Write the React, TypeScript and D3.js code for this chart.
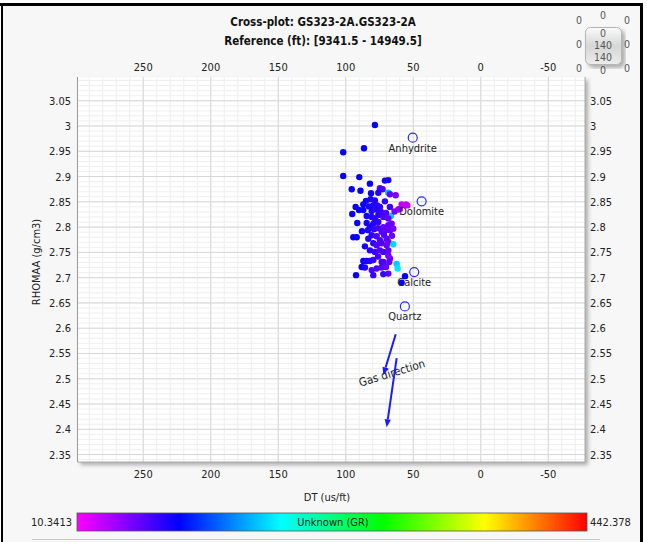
import React from "react";
import * as d3 from "d3";

// log samples: DT (us/ft), RHOMAA (g/cm3), GR (colour)
const dtValues = [
  78.4, 86.5, 101.9, 101.9, 90.0, 82.1, 71.0, 68.5, 95.6, 89.1,
  74.7, 72.7, 81.3, 75.9, 68.5, 67.3, 63.0, 85.0, 81.6, 78.4,
  71.0, 92.7, 90.2, 76.7, 74.7, 67.3, 58.6, 55.4, 59.9, 80.8,
  95.2, 66.5, 87.0, 79.6, 61.1, 54.4, 87.0, 77.1, 84.5, 80.8,
  78.4, 75.9, 72.2, 68.5, 91.5, 84.5, 79.6, 75.9, 72.2, 68.5,
  66.0, 73.4, 71.0, 67.3, 64.8, 82.1, 80.8, 77.1, 83.3, 74.7,
  69.7, 94.4, 91.9, 79.6, 77.1, 73.4, 68.5, 69.7, 64.8, 82.1,
  78.4, 74.7, 72.2, 68.5, 68.5, 87.0, 84.5, 82.1, 79.6, 73.4,
  88.2, 85.8, 72.2, 67.3, 67.8, 77.1, 73.4, 80.8, 79.6, 70.2,
  68.5, 92.4, 62.3, 61.6, 56.1, 58.6, 72.2, 83.6, 79.1, 76.1,
  85.8, 71.7, 65.8, 76.1, 88.0, 73.9, 70.2, 82.8, 63.9,
];
const rhomaaValues = [
  3.002, 2.956, 2.948, 2.901, 2.899, 2.886, 2.892, 2.893, 2.875, 2.872,
  2.877, 2.875, 2.867, 2.868, 2.868, 2.865, 2.863, 2.852, 2.855, 2.853,
  2.851, 2.840, 2.834, 2.843, 2.840, 2.840, 2.845, 2.845, 2.836, 2.832,
  2.826, 2.822, 2.845, 2.843, 2.835, 2.843, 2.834, 2.835, 2.822, 2.820,
  2.817, 2.824, 2.820, 2.817, 2.808, 2.808, 2.807, 2.810, 2.800, 2.804,
  2.807, 2.791, 2.793, 2.794, 2.797, 2.800, 2.784, 2.782, 2.777, 2.774,
  2.777, 2.780, 2.780, 2.768, 2.764, 2.768, 2.771, 2.764, 2.766, 2.754,
  2.751, 2.754, 2.751, 2.754, 2.744, 2.733, 2.733, 2.733, 2.735, 2.731,
  2.721, 2.720, 2.731, 2.738, 2.731, 2.718, 2.720, 2.715, 2.705, 2.721,
  2.708, 2.705, 2.727, 2.718, 2.703, 2.690, 2.707, 2.794, 2.796, 2.798,
  2.762, 2.785, 2.783, 2.742, 2.792, 2.830, 2.828, 2.841, 2.831,
];
const grValues = [
  95, 95, 95, 95, 95, 94, 92, 90, 95, 95,
  68, 72, 90, 85, 160, 62, 55, 92, 88, 86,
  82, 95, 94, 85, 82, 76, 30, 28, 32, 86,
  95, 165, 94, 86, 45, 30, 92, 84, 90, 86,
  82, 86, 68, 64, 95, 90, 86, 82, 62, 66,
  62, 68, 64, 64, 56, 88, 80, 72, 86, 70,
  68, 95, 95, 82, 68, 72, 62, 62, 170, 82,
  78, 70, 72, 66, 62, 92, 88, 84, 78, 75,
  92, 86, 72, 56, 64, 70, 68, 72, 78, 62,
  66, 95, 165, 175, 97, 98, 78, 86, 78, 72,
  90, 68, 62, 72, 92, 78, 70, 88, 56,
];

const mineralNames = ["Anhydrite", "Dolomite", "Calcite", "Quartz"];
const mineralDt = [50.4, 43.8, 49.3, 56.2];
const mineralRhomaa = [2.977, 2.851, 2.711, 2.643];

// gas direction arrows: [dtFrom, rhoFrom, dtTo, rhoTo]
const gasArrows = [
  [63.0, 2.588, 72.2, 2.507],
  [62.3, 2.541, 69.7, 2.404],
];
const gasLabel = "Gas direction";

const xTickValues = [250, 200, 150, 100, 50, 0, -50];
const yTickValues = [3.05, 3, 2.95, 2.9, 2.85, 2.8, 2.75, 2.7, 2.65, 2.6, 2.55, 2.5, 2.45, 2.4, 2.35];
const grRange = [10.3413, 442.378];
const colorStops = ["#ff00ff", "#0000ff", "#00ffff", "#00ff00", "#ffff00", "#ff0000"];

const W = 647;
const H = 542;
const left = 77.5;
const right = 585;
const top = 77;
const bottom = 462;
const font = "'DejaVu Sans Condensed', 'Liberation Sans', sans-serif";

export default function App() {
  const x = d3.scaleLinear().domain([298.7, -77.2]).range([left, right]);
  const y = d3.scaleLinear().domain([3.097, 2.3353]).range([top, bottom]);
  const gr = d3
    .scaleLinear<string>()
    .domain(colorStops.map((_, i) => grRange[0] + (i / (colorStops.length - 1)) * (grRange[1] - grRange[0])))
    .range(colorStops)
    .clamp(true);

  const minorX = d3.range(-70, 300, 10);
  const minorY = d3.range(234, 310, 1).map((d) => d / 100);
  const fmtY = (v: number) => String(+v.toFixed(2));

  const widgetZeros = [
    [579, 24], [603, 19], [627, 24],
    [579, 48], [627, 48],
    [579, 72], [603, 74], [627, 72],
  ];

  return (
    <div style={{ position: "absolute", left: 0, top: 0 }}>
      <svg width={W} height={H} style={{ display: "block", fontFamily: font }}>
        <defs>
          <linearGradient id="cbar" x1="0" x2="1" y1="0" y2="0">
            {colorStops.map((c, i) => (
              <stop key={i} offset={i / (colorStops.length - 1)} stopColor={c} />
            ))}
          </linearGradient>
          <linearGradient id="btn" x1="0" x2="0" y1="0" y2="1">
            <stop offset="0" stopColor="#fbfbfb" />
            <stop offset="0.5" stopColor="#d6d6d6" />
            <stop offset="1" stopColor="#ececec" />
          </linearGradient>
          <filter id="shadow" x="-5%" y="-5%" width="115%" height="115%">
            <feDropShadow dx="3" dy="3" stdDeviation="2" floodColor="#000" floodOpacity="0.3" />
          </filter>
          <clipPath id="plotclip">
            <rect x={left} y={top} width={right - left} height={bottom - top} />
          </clipPath>
        </defs>

        <rect x={0} y={0} width={W} height={H} fill="#fff" />
        <rect x={2} y={5} width={639} height={H - 5} fill="#f7f7f7" />
        <line x1={0} x2={643} y1={4.5} y2={4.5} stroke="#000" strokeWidth={3} />
        <line x1={2} x2={2} y1={4} y2={H} stroke="#000" strokeWidth={2} />
        <line x1={641.5} x2={641.5} y1={4} y2={H} stroke="#000" strokeWidth={3} />

        {/* titles */}
        <text x={323} y={26} textAnchor="middle" fontSize={11.5} fontWeight="bold" fill="#111">
          Cross-plot: GS323-2A.GS323-2A
        </text>
        <text x={323} y={45} textAnchor="middle" fontSize={11.5} fontWeight="bold" fill="#111">
          Reference (ft): [9341.5 - 14949.5]
        </text>

        {/* plot background */}
        <rect x={left} y={top} width={right - left} height={bottom - top} fill="#fff" filter="url(#shadow)" />
        <g>
          {minorX.map((v) => (
            <line key={"mx" + v} x1={x(v)} x2={x(v)} y1={top} y2={bottom} stroke="#efefef" />
          ))}
          {minorY.map((v) => (
            <line key={"my" + v} x1={left} x2={right} y1={y(v)} y2={y(v)} stroke="#efefef" />
          ))}
          {xTickValues.map((v) => (
            <line key={"gx" + v} x1={x(v)} x2={x(v)} y1={top} y2={bottom} stroke="#d8d8d8" />
          ))}
          {yTickValues.map((v) => (
            <line key={"gy" + v} x1={left} x2={right} y1={y(v)} y2={y(v)} stroke="#d8d8d8" />
          ))}
        </g>
        <line x1={left} x2={left} y1={top} y2={bottom} stroke="#999" />
        <line x1={left} x2={right} y1={bottom} y2={bottom} stroke="#aaa" />
        <line x1={right} x2={right} y1={top} y2={bottom} stroke="#aaa" />

        {/* tick labels */}
        <g fontSize={11} fill="#222">
          {xTickValues.map((v) => (
            <text key={"tt" + v} x={x(v)} y={71} textAnchor="middle">{v}</text>
          ))}
          {xTickValues.map((v) => (
            <text key={"tb" + v} x={x(v)} y={478} textAnchor="middle">{v}</text>
          ))}
          {yTickValues.map((v) => (
            <text key={"tl" + v} x={71} y={y(v) + 4} textAnchor="end">{fmtY(v)}</text>
          ))}
          {yTickValues.map((v) => (
            <text key={"tr" + v} x={590} y={y(v) + 4}>{fmtY(v)}</text>
          ))}
        </g>

        <text x={327} y={501} textAnchor="middle" fontSize={11} fill="#222">DT (us/ft)</text>
        <text transform="translate(40,262) rotate(-90)" textAnchor="middle" fontSize={11} fill="#222">
          RHOMAA (g/cm3)
        </text>

        {/* data */}
        <g clipPath="url(#plotclip)">
          {dtValues.map((d, i) => (
            <circle key={i} cx={x(d)} cy={y(rhomaaValues[i])} r={3.2} fill={gr(grValues[i])} />
          ))}
          {mineralNames.map((m, i) => (
            <g key={m}>
              <circle cx={x(mineralDt[i])} cy={y(mineralRhomaa[i])} r={4.5} fill="none" stroke="#2b2bff" strokeWidth={1.2} />
              <text x={x(mineralDt[i])} y={y(mineralRhomaa[i]) + 14} textAnchor="middle" fontSize={11} fill="#222">
                {m}
              </text>
            </g>
          ))}
          <text
            transform={`translate(${x(65)},${y(2.504)}) rotate(-17)`}
            textAnchor="middle"
            fontSize={11.5}
            fill="#222"
          >
            {gasLabel}
          </text>
          {gasArrows.map((a, i) => {
            const x1 = x(a[0]), y1 = y(a[1]), x2 = x(a[2]), y2 = y(a[3]);
            const ang = Math.atan2(y2 - y1, x2 - x1);
            const hl = 8, hw = 3.2;
            const bx = x2 - hl * Math.cos(ang), by = y2 - hl * Math.sin(ang);
            const px = -Math.sin(ang) * hw, py = Math.cos(ang) * hw;
            return (
              <g key={i}>
                <line x1={x1} y1={y1} x2={bx} y2={by} stroke="#1a1aff" strokeWidth={2} />
                <path d={`M${x2},${y2}L${bx + px},${by + py}L${bx - px},${by - py}Z`} fill="#1a1aff" />
              </g>
            );
          })}
        </g>

        {/* colour bar */}
        <rect x={77} y={513} width={510} height={18} fill="url(#cbar)" stroke="#555" strokeWidth={0.8} />
        <text x={333} y={526} textAnchor="middle" fontSize={11} fill="#222">Unknown (GR)</text>
        <text x={72} y={526} textAnchor="end" fontSize={11} fill="#222">{grRange[0]}</text>
        <text x={590} y={526} fontSize={11} fill="#222">{grRange[1]}</text>
        <line x1={32} x2={600} y1={539.5} y2={539.5} stroke="#c8c8c8" />

        {/* navigation widget */}
        <g fontSize={10.5} fill="#555" textAnchor="middle">
          <rect x={585.5} y={27.5} width={36} height={37} rx={5} fill="url(#btn)" stroke="#b5b5b5" filter="url(#shadow)" />
          {widgetZeros.map((p, i) => (
            <text key={i} x={p[0]} y={p[1]}>0</text>
          ))}
          <text x={603} y={37}>0</text>
          <text x={603} y={49}>140</text>
          <text x={603} y={61}>140</text>
        </g>
      </svg>
    </div>
  );
}
